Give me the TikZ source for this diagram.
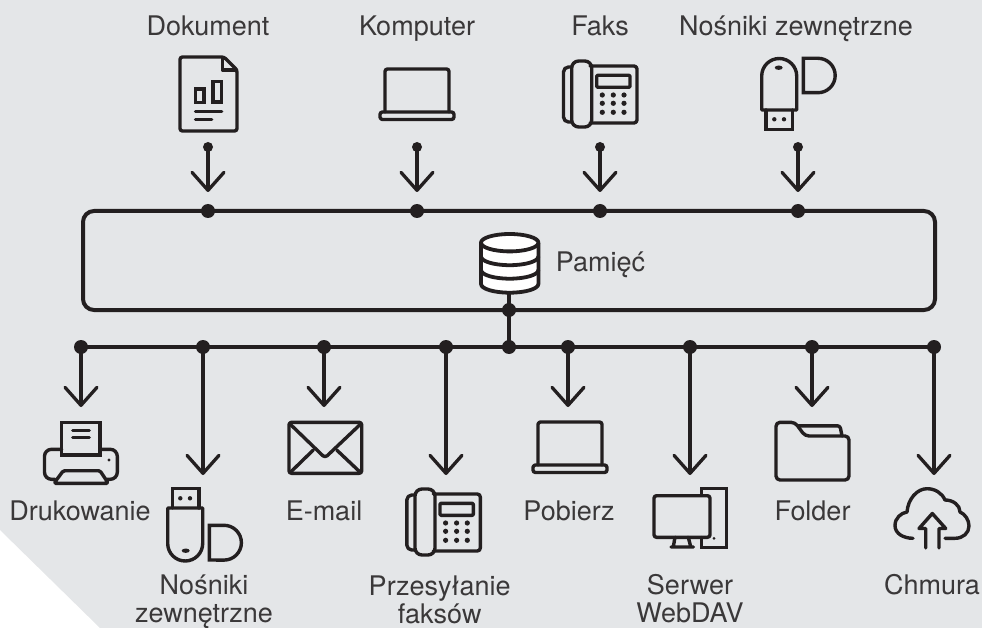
\documentclass[tikz,border=0pt]{standalone}
\usepackage{fontspec}
\setmainfont{TeX Gyre Heros}
\usetikzlibrary{arrows.meta}
\definecolor{bggrey}{HTML}{E4E6E8}
\definecolor{ink}{HTML}{231F20}
\definecolor{txt}{HTML}{3A3839}
\tikzset{
  x=1pt,y=-1pt,
  conn/.style={draw=ink,line width=3.3pt},
  arrowline/.style={conn,-{Straight Barb[length=18pt,width=32pt,line width=3.3pt,round]}},
  bus/.style={draw=ink,line width=4pt},
  bigdot/.style={circle,fill=ink,inner sep=0pt,minimum size=14pt},
  smalldot/.style={circle,fill=ink,inner sep=0pt,minimum size=10pt},
  lab/.style={anchor=base,inner sep=0pt,text=txt,align=center,font=\fontsize{27}{27.5}\selectfont},
  icon/.style={draw=ink,line width=3.4pt,line join=round,line cap=round},
  laptop/.pic={
    \draw[icon,rounded corners=2.5pt] (-32,43) -- (-32,0) -- (32,0) -- (32,43);
    \draw[icon,rounded corners=2.5pt] (-37,43) rectangle (37,50.5);
  },
  phone/.pic={
    \draw[icon,rounded corners=3pt] (590,66) -- (637,66) -- (637,123) -- (590,123);
    \draw[icon,rounded corners=7pt] (571.7,61) rectangle (591.7,127);
    \draw[icon,rounded corners=5pt] (571.7,67) -- (563.5,67) -- (563.5,122) -- (571.7,122);
    \draw[icon,rounded corners=1pt] (596.7,75.3) rectangle (630,87.3);
    \foreach \bx in {602.3,613.3,624}
      \foreach \by in {95,103.3,112.3}
        \fill[ink] (\bx,\by) circle[radius=2.6pt];
  }
}
\begin{document}
\begin{tikzpicture}
\useasboundingbox (0,0) rectangle (982,628);
\fill[bggrey] (0,0) -- (982,0) -- (982,628) -- (100,628) -- (0,530) -- cycle;

% top labels
\node[lab] (lDok) at (208,36) {Dokument};
\node[lab] (lKom) at (417,36) {Komputer};
\node[lab] (lFak) at (600,36) {Faks};
\node[lab] (lNos) at (796,36) {Nośniki zewnętrzne};

% document icon
\draw[icon,rounded corners=2.5pt] (224,57) -- (180,57) -- (180,131) -- (237,131) -- (237,70) -- cycle;
\draw[icon] (222.5,57.5) -- (222.5,70) -- (236.5,70);
\draw[icon,line join=miter] (195.5,89) rectangle (204,102.5);
\draw[icon,line join=miter] (213,81.5) rectangle (221.7,102);
\draw[icon] (195.5,111.7) -- (221.7,111.7);
\draw[icon] (195.5,119.3) -- (211.7,119.3);

% top laptop, phone
\pic at (417,69) {laptop};
\pic at (0,0) {phone};

% top usb
\draw[icon] (761.7,110) -- (761.7,76) arc[start angle=180,end angle=360,radius=17.5] -- (796.7,110) -- cycle;
\draw[icon,line join=miter] (766,110) -- (766,129.3) -- (792.3,129.3) -- (792.3,110);
\fill[ink] (774.3,119.3) circle[radius=2.2pt] (784,119.3) circle[radius=2.2pt];
\fill[ink] (778.7,67.7) ellipse[x radius=4pt,y radius=2.2pt];
\draw[icon,line join=miter] (803.3,58.3) -- (818,58.3) arc[start angle=-90,end angle=90,radius=17.2] -- (803.3,92.7) -- cycle;

% storage box
\draw[bus,rounded corners=11pt] (83,211) rectangle (935,310);

% top connectors
\foreach \n/\px in {a/208,b/417,c/600,d/798}{
  \node[smalldot] (s\n) at (\px,147) {};
  \node[bigdot] (t\n) at (\px,211) {};
  \coordinate (e\n) at (\px,192);
  \draw[arrowline] (s\n.center) -- (e\n);
}

% database
\draw[icon,line width=3.8pt,fill=white] (481,243) -- (481,284) arc[start angle=180,end angle=0,x radius=28.7,y radius=8.7] -- (538.4,243) -- cycle;
\draw[icon,line width=3.8pt,fill=white] (509.7,242.7) ellipse[x radius=28.7,y radius=8.7];
\draw[icon,line width=3.8pt] (481,256.5) arc[start angle=180,end angle=0,x radius=28.7,y radius=8.7];
\draw[icon,line width=3.8pt] (481,270) arc[start angle=180,end angle=0,x radius=28.7,y radius=8.7];
\coordinate (dbb) at (509,292);
\node[lab] (lPam) at (600.5,271.7) {Pamięć};

% bottom bus
\node[bigdot] (hub1) at (509,310) {};
\node[bigdot] (hub2) at (509,347) {};
\draw[bus] (dbb) -- (hub2.center);
\node[bigdot] (b1) at (81,347) {};
\node[bigdot] (b2) at (203,347) {};
\node[bigdot] (b3) at (324,347) {};
\node[bigdot] (b4) at (446,347) {};
\node[bigdot] (b5) at (568,347) {};
\node[bigdot] (b6) at (690,347) {};
\node[bigdot] (b7) at (812,347) {};
\node[bigdot] (b8) at (934,347) {};
\draw[bus] (b1.center) -- (b8.center);
\foreach \n/\px/\py in {1/81/407,2/203/475,3/324/407,4/446/475,5/568/407,6/690/475,7/812/407,8/934/475}{
  \coordinate (f\n) at (\px,\py);
  \draw[arrowline] (b\n.center) -- (f\n);
}

% printer
\draw[icon,rounded corners=7pt] (61.7,449.3) -- (44.5,449.3) -- (44.5,479.3) -- (55,479.3);
\draw[icon,rounded corners=7pt] (100,449.3) -- (117.3,449.3) -- (117.3,479.3) -- (107,479.3);
\draw[icon,line join=miter] (61.7,422.7) rectangle (100,455);
\draw[icon] (72.7,430.7) -- (89.3,430.7) (72.7,437.3) -- (89.3,437.3);
\draw[icon,rounded corners=1.5pt] (54,483.3) -- (63.3,470.7) -- (100,470.7) -- (108.3,483.3) -- cycle;
\fill[ink] (109,460) circle[radius=1.7pt];
\node[lab] (lDru) at (80,520) {Drukowanie};

% bottom usb
\draw[icon] (167.7,508) -- (167.7,543.5) arc[start angle=180,end angle=0,radius=17.5] -- (202.7,508) -- cycle;
\draw[icon,line join=miter] (172.3,508) -- (172.3,488.3) -- (199,488.3) -- (199,508);
\fill[ink] (180.3,498.3) circle[radius=2.2pt] (190,498.3) circle[radius=2.2pt];
\fill[ink] (185.7,550.7) ellipse[x radius=4pt,y radius=2.2pt];
\draw[icon,line join=miter] (209.3,525.3) -- (224,525.3) arc[start angle=-90,end angle=90,radius=17.4] -- (209.3,560) -- cycle;
\node[lab] (lNos2) at (204,622) {Nośniki\\zewnętrzne};

% envelope
\draw[icon,rounded corners=2.5pt] (289,422.3) rectangle (361.7,473.3);
\draw[icon,rounded corners=3pt] (290,424) -- (325,457.8) -- (360.7,424);
\draw[icon] (290,472.7) -- (313.3,450) (360.7,472.7) -- (336.7,450);
\node[lab] (lEma) at (324,520.7) {E-mail};

% lower phone
\pic at (-156.7,428) {phone};
\node[lab] (lPrz) at (439.7,623) {Przesyłanie\\faksów};

% lower laptop
\pic at (570,422) {laptop};
\node[lab] (lPob) at (569,520.7) {Pobierz};

% computer
\draw[icon,rounded corners=2.5pt] (654,495.7) rectangle (710,537.3);
\draw[icon] (675,537.3) -- (673.3,546.7) (688.3,537.3) -- (690.7,546.7) (671,547) -- (693.3,547);
\draw[icon,line join=miter] (701.7,495) -- (701.7,488.3) -- (726.7,488.3) -- (726.7,547.7) -- (701.7,547.7) -- (701.7,537.5);
\fill[ink] (714,538.3) circle[radius=1.5pt];
\node[lab] (lSer) at (690,622) {Serwer\\WebDAV};

% folder
\draw[icon,rounded corners=4pt] (776,422.3) -- (795,422.3) -- (805,436) -- (849,436) -- (849,480) -- (776,480) -- cycle;
\draw[icon,rounded corners=2.5pt] (798.5,425.8) -- (840,425.8) -- (842,436);
\node[lab] (lFol) at (812.5,520) {Folder};

% cloud
\draw[icon] (913,538.3) .. controls (904,538.3) and (895,534) .. (895,525.5)
  .. controls (895,518) and (901,513) .. (907,512)
  .. controls (908,499) and (917,488.7) .. (927,488.7)
  .. controls (935,488.7) and (942,493) .. (945,500)
  .. controls (953,500) and (960,505) .. (960,512)
  .. controls (965,514) and (969,520) .. (969,526)
  .. controls (969,533) and (963,538.3) .. (955,538.3) -- (945,538.3);
\draw[icon] (925.7,548) -- (925.7,528.5) -- (919,528.5) -- (932.3,513.5) -- (945.7,528.5) -- (939,528.5) -- (939,548);
\node[lab] (lChm) at (932,594) {Chmura};
\end{tikzpicture}
\end{document}
